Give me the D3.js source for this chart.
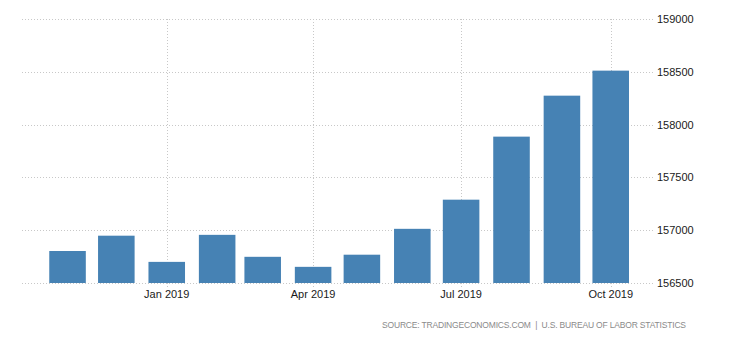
<!DOCTYPE html>
<html>
<head>
<meta charset="utf-8">
<script src="https://cdn.jsdelivr.net/npm/d3@7"></script>
<style>
  html, body { margin: 0; padding: 0; background: #fff; }
  svg { display: block; }
  .tick-label { font-family: "Liberation Sans", Arial, sans-serif; font-size: 11px; fill: #1a1a1a; }
  .source { font-family: "Liberation Sans", Arial, sans-serif; font-size: 8.5px; fill: #8a8a8a; }
</style>
</head>
<body>
<svg id="chart" width="730" height="340"></svg>
<script>
// Employed persons, thousands (monthly)
const months = ["2018-11", "2018-12", "2019-01", "2019-02", "2019-03", "2019-04",
                "2019-05", "2019-06", "2019-07", "2019-08", "2019-09", "2019-10"];
const values = [156803, 156948, 156700, 156956, 156748, 156653,
                156768, 157013, 157289, 157886, 158274, 158511];
const xTickMonths = ["2019-01", "2019-04", "2019-07", "2019-10"];
const yTicks = [156500, 157000, 157500, 158000, 158500, 159000];
const sourceText = "SOURCE: TRADINGECONOMICS.COM  |  U.S. BUREAU OF LABOR STATISTICS";

const parse = d3.utcParse("%Y-%m");
const fmtMonth = d3.utcFormat("%b %Y");
const data = months.map((m, i) => ({ date: parse(m), value: values[i] }));

const svg = d3.select("#chart");
const plot = { left: 22, right: 653, top: 19, bottom: 283 };

const x = d3.scaleUtc()
  .domain([Date.UTC(2018, 9, 4), Date.UTC(2019, 9, 27)])
  .range([plot.left, plot.right]);

const y = d3.scaleLinear()
  .domain([156500, 159000])
  .range([plot.bottom, plot.top]);

// Bar width as a share of one month on the time axis
const monthPx = x(Date.UTC(2019, 1, 1)) - x(Date.UTC(2019, 0, 1));
const barW = monthPx * 0.725;

const grid = svg.append("g").attr("class", "grid");

// Horizontal dotted gridlines
grid.selectAll("line.h")
  .data(yTicks)
  .join("line")
  .attr("class", "h")
  .attr("x1", plot.left)
  .attr("x2", plot.right)
  .attr("y1", d => Math.round(y(d)) + 0.5)
  .attr("y2", d => Math.round(y(d)) + 0.5)
  .attr("stroke", "#c8c8c8")
  .attr("stroke-width", 1)
  .attr("stroke-dasharray", "1,2");

// Vertical dotted gridlines at labelled months
grid.selectAll("line.v")
  .data(xTickMonths.map(parse))
  .join("line")
  .attr("class", "v")
  .attr("x1", d => Math.round(x(d)) + 0.5)
  .attr("x2", d => Math.round(x(d)) + 0.5)
  .attr("y1", plot.top)
  .attr("y2", plot.bottom + 4)
  .attr("stroke", "#c8c8c8")
  .attr("stroke-width", 1)
  .attr("stroke-dasharray", "1,2");

// Bars
svg.append("g")
  .selectAll("rect")
  .data(data)
  .join("rect")
  .attr("x", d => x(d.date) - barW / 2)
  .attr("width", barW)
  .attr("y", d => y(d.value))
  .attr("height", d => y(156500) - y(d.value))
  .attr("fill", "#4682b4");

// Right-hand value axis labels
svg.append("g")
  .selectAll("text")
  .data(yTicks)
  .join("text")
  .attr("class", "tick-label")
  .attr("x", plot.right + 4)
  .attr("y", d => y(d))
  .attr("dy", "0.36em")
  .text(d => d3.format("d")(d));

// Month labels under the axis
svg.append("g")
  .selectAll("text")
  .data(xTickMonths.map(parse))
  .join("text")
  .attr("class", "tick-label")
  .attr("x", d => x(d))
  .attr("y", 298)
  .attr("text-anchor", "middle")
  .text(d => fmtMonth(d));

// Source note
svg.append("text")
  .attr("class", "source")
  .attr("x", 382)
  .attr("y", 328)
  .attr("textLength", 304)
  .attr("lengthAdjust", "spacing")
  .attr("xml:space", "preserve")
  .style("white-space", "pre")
  .text(sourceText);
</script>
</body>
</html>
